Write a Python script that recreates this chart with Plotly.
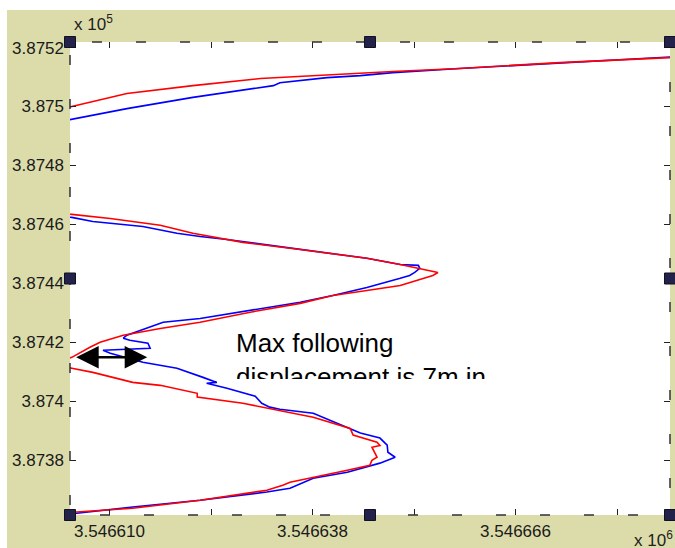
import plotly.graph_objects as go

# Vehicle track (easting, northing in metres) - reference path (red)
red_e = [3546688.7, 3546687.3, 3546672.1, 3546658.3, 3546649.1, 3546640.0, 3546630.8,
         3546621.5, 3546612.4, 3546604.8, 3546603.2, 3546600.4, 3546600.4, 3546603.2,
         3546604.8, 3546610.1, 3546617.0, 3546621.5, 3546628.4, 3546636.3, 3546645.5,
         3546650.1, 3546652.6, 3546655.3, 3546654.6, 3546652.4, 3546650.1, 3546645.5,
         3546640.8, 3546636.3, 3546629.4, 3546622.5, 3546617.0, 3546611.9, 3546608.7,
         3546607.3, 3546605.9, 3546604.8, 3546603.2, 3546603.2, 3546604.8, 3546607.7,
         3546613.2, 3546617.0, 3546622.1, 3546622.1, 3546628.4, 3546636.3, 3546638.1,
         3546643.2, 3546643.6, 3546646.9, 3546647.3, 3546646.2, 3546646.9, 3546646.2,
         3546645.9, 3546642.8, 3546638.1, 3546634.9, 3546633.9, 3546631.7, 3546622.5,
         3546613.2, 3546605.5, 3546603.2]
red_n = [387517.0, 387516.6, 387514.9, 387512.9, 387511.9, 387510.8, 387509.5,
         387507.1, 387504.4, 387500.0, 387499.0, 387485.1, 387464.7, 387463.7,
         387463.4, 387462.0, 387459.7, 387457.0, 387453.9, 387451.5, 387448.5,
         387446.4, 387445.1, 387443.7, 387442.7, 387441.0, 387439.3, 387437.6,
         387435.9, 387433.2, 387430.2, 387426.8, 387424.7, 387422.4, 387420.0,
         387418.3, 387416.3, 387414.9, 387413.6, 387411.9, 387411.2, 387409.8,
         387406.4, 387405.4, 387402.7, 387401.4, 387399.3, 387395.3, 387394.6,
         387390.8, 387388.5, 387386.1, 387385.0, 387384.4, 387381.0, 387380.0,
         387378.3, 387376.6, 387374.2, 387372.5, 387371.5, 387369.8, 387366.4,
         387363.7, 387362.4, 387362.0]

# Following vehicle track (blue)
blue_e = [3546688.7, 3546672.1, 3546658.3, 3546649.1, 3546644.6, 3546640.0, 3546633.5,
          3546632.6, 3546621.5, 3546612.4, 3546604.8, 3546603.2, 3546600.4, 3546600.4,
          3546603.2, 3546604.8, 3546607.7, 3546614.6, 3546619.3, 3546622.5, 3546626.2,
          3546636.3, 3546645.5, 3546650.1, 3546652.6, 3546652.8, 3546652.1, 3546651.4,
          3546650.1, 3546645.5, 3546640.8, 3546636.3, 3546629.4, 3546622.5, 3546617.4,
          3546612.4, 3546611.9, 3546612.8, 3546615.3, 3546615.6, 3546609.1, 3546610.1,
          3546614.6, 3546619.3, 3546622.9, 3546624.8, 3546623.4, 3546626.2, 3546630.1,
          3546631.0, 3546632.1, 3546633.5, 3546638.1, 3546642.8, 3546644.6, 3546647.3,
          3546648.3, 3546648.4, 3546649.4, 3546647.3, 3546642.8, 3546638.1, 3546634.9,
          3546631.7, 3546622.5, 3546613.2, 3546605.5, 3546603.2]
blue_n = [387517.0, 387514.9, 387512.9, 387511.5, 387510.5, 387509.8, 387508.1,
          387507.1, 387503.1, 387499.3, 387495.6, 387494.9, 387485.1, 387463.1,
          387462.7, 387462.4, 387461.0, 387459.3, 387457.0, 387455.9, 387454.9,
          387451.5, 387448.5, 387446.4, 387446.1, 387445.1, 387443.7, 387442.7,
          387441.7, 387438.6, 387435.9, 387433.6, 387430.8, 387428.1, 387426.8,
          387422.4, 387421.4, 387420.7, 387419.7, 387418.0, 387417.3, 387416.3,
          387413.2, 387411.2, 387408.1, 387406.4, 387406.1, 387404.4, 387401.7,
          387399.3, 387398.0, 387397.3, 387395.9, 387391.2, 387389.2, 387387.5,
          387385.1, 387382.7, 387381.0, 387379.0, 387375.9, 387373.9, 387370.5,
          387369.2, 387366.4, 387364.1, 387362.0, 387361.7]

# Axis ticks
x_ticks = [3546610, 3546624, 3546638, 3546652, 3546666, 3546680]
x_tick_text = ["3.546610", "", "3.546638", "", "3.546666", ""]
y_ticks = [387380, 387400, 387420, 387440, 387460, 387480, 387500, 387520]
y_tick_text = ["3.8738", "3.874", "3.8742", "3.8744", "3.8746", "3.8748", "3.875", "3.8752"]

# Displacement arrow end points
arrow_e = [3546605.2, 3546615.2]
arrow_n = [387414.9, 387414.9]

x_range = [3546604.55, 3546687.31]
y_range = [387361.4, 387521.9]

W, H = 675, 548
ML, MR, MT, MB = 70, 5, 42, 33
PW, PH = W - ML - MR, H - MT - MB
FIG_BG = "#dcdcab"
FONT = "Liberation Sans, Arial, sans-serif"
TICK_FONT = dict(family=FONT, size=17, color="#1a1a1a")


def px_x(p):
    return (p - ML) / PW


def px_y(p):
    return (H - MB - p) / PH


fig = go.Figure()
fig.add_trace(go.Scatter(x=blue_e, y=blue_n, mode="lines",
                         line=dict(color="#0000ff", width=1.6), showlegend=False))
fig.add_trace(go.Scatter(x=red_e, y=red_n, mode="lines",
                         line=dict(color="#ff0000", width=1.6), showlegend=False))

shapes = []
# white strips at the top and left edge of the window
shapes.append(dict(type="rect", xref="paper", yref="paper", x0=-0.3, x1=1.3,
                   y0=px_y(10), y1=1.3, fillcolor="white", line_width=0, layer="below"))
shapes.append(dict(type="rect", xref="paper", yref="paper", x0=-0.3, x1=px_x(7),
                   y0=-0.3, y1=1.3, fillcolor="white", line_width=0, layer="below"))

# dashed selection outline on each side of the axes
dash = "10px,34px"
edge = "#303038"
shapes.append(dict(type="line", xref="paper", yref="paper", x0=px_x(92), x1=1, y0=1, y1=1,
                   line=dict(color=edge, width=1.5, dash=dash), layer="above"))
shapes.append(dict(type="line", xref="paper", yref="paper", x0=px_x(100), x1=1, y0=0, y1=0,
                   line=dict(color=edge, width=1.5, dash=dash), layer="above"))
shapes.append(dict(type="line", xref="paper", yref="paper", x0=0, x1=0, y0=px_y(55), y1=0,
                   line=dict(color=edge, width=1.5, dash=dash), layer="above"))
shapes.append(dict(type="line", xref="paper", yref="paper", x0=1, x1=1, y0=px_y(82), y1=0,
                   line=dict(color=edge, width=1.5, dash=dash), layer="above"))

# selection handles
hs = 5.5
for cx in (0, 0.5, 1):
    for cy in (0, 0.5, 1):
        if cx == 0.5 and cy == 0.5:
            continue
        shapes.append(dict(type="rect", xref="paper", yref="paper",
                           x0=cx - hs / PW, x1=cx + hs / PW,
                           y0=cy - hs / PH, y1=cy + hs / PH,
                           fillcolor="#22224a", line=dict(color="#111122", width=1),
                           layer="above"))

annotations = [
    dict(xref="paper", yref="paper", x=px_x(72), y=px_y(36), xanchor="left", yanchor="bottom",
         text="x 10<sup>5</sup>", showarrow=False, font=dict(family=FONT, size=17, color="#222")),
    dict(xref="paper", yref="paper", x=px_x(632), y=px_y(526), xanchor="left", yanchor="top",
         text="x 10<sup>6</sup>", showarrow=False, font=dict(family=FONT, size=17, color="#222")),
    dict(xref="paper", yref="paper", x=px_x(235), y=px_y(327), xanchor="left", yanchor="top",
         align="left", valign="top", height=51, borderpad=0,
         text="Max following<br>displacement is 7m in", showarrow=False,
         font=dict(family=FONT, size=26, color="black")),
    dict(x=arrow_e[1], y=arrow_n[1], ax=arrow_e[0], ay=arrow_n[0], axref="x", ayref="y",
         xref="x", yref="y", text="", showarrow=True, arrowside="end+start",
         arrowhead=2, arrowsize=1.8, arrowwidth=2.5, arrowcolor="black"),
]

fig.update_layout(
    width=W, height=H,
    margin=dict(l=ML, r=MR, t=MT, b=MB),
    paper_bgcolor=FIG_BG, plot_bgcolor="white",
    shapes=shapes, annotations=annotations,
    font=dict(family=FONT, size=17, color="#1a1a1a"),
    xaxis=dict(range=x_range, tickvals=x_ticks, ticktext=x_tick_text, showgrid=False,
               zeroline=False, showline=False, ticks="inside", ticklen=6, tickwidth=1,
               tickcolor="#222", mirror="ticks", ticklabelstandoff=4, tickfont=TICK_FONT),
    yaxis=dict(range=y_range, tickvals=y_ticks, ticktext=y_tick_text, showgrid=False,
               zeroline=False, showline=False, ticks="inside", ticklen=6, tickwidth=1,
               tickcolor="#222", mirror="ticks", ticklabelstandoff=5, tickfont=TICK_FONT),
)

fig.write_html("out.html")
